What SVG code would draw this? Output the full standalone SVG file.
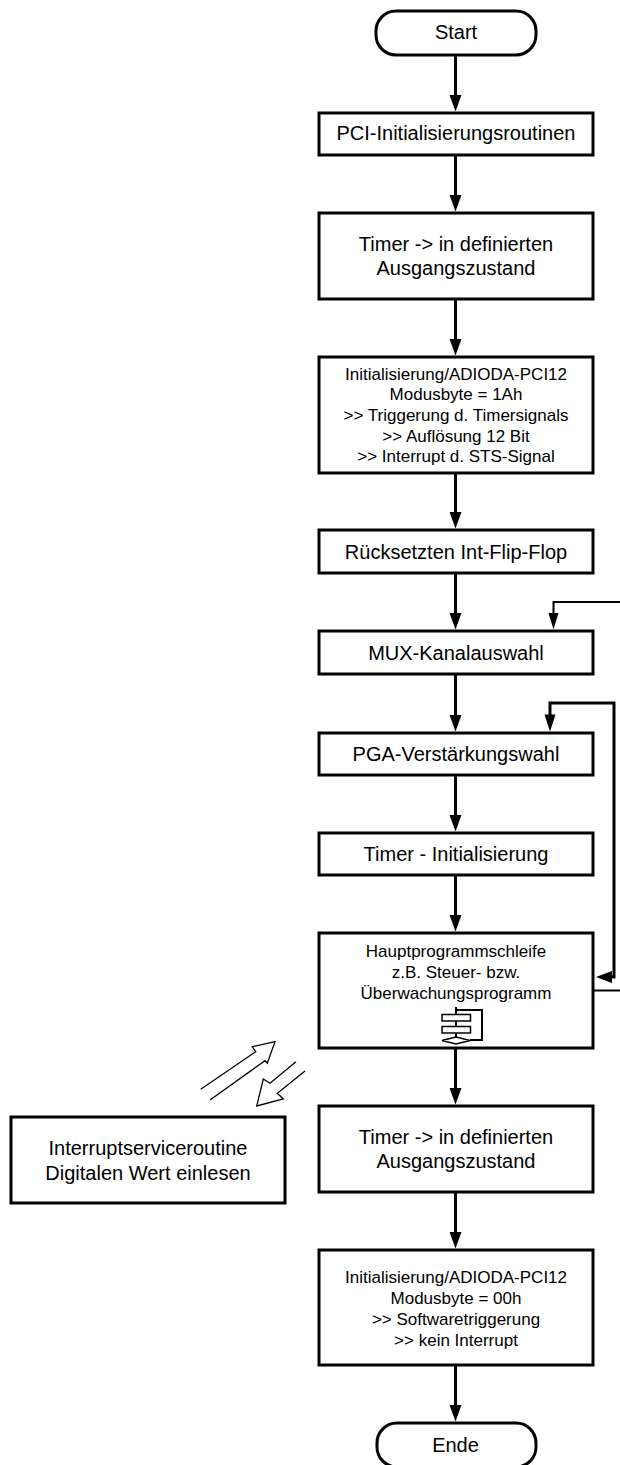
<svg xmlns="http://www.w3.org/2000/svg" width="620" height="1465" viewBox="0 0 620 1465">
<style>
text{font-family:"Liberation Sans",Arial,sans-serif;fill:#000;text-anchor:middle}
.a{font-size:20px}.b{font-size:17px}
.n{fill:#fff;stroke:#000;stroke-width:3}
.c{fill:none;stroke:#000;stroke-width:3}
.t{fill:none;stroke:#000;stroke-width:2}
.h{fill:#fff;stroke:#000;stroke-width:1.500}
</style>
<g id="connectors">
<path class="c" d="M455.500 55V100"/><path d="M449.500 95H461.500L455.500 111.500Z"/>
<path class="c" d="M455.500 155V200"/><path d="M449.500 195H461.500L455.500 211.500Z"/>
<path class="c" d="M455.500 299V344"/><path d="M449.500 339H461.500L455.500 355.500Z"/>
<path class="c" d="M455.500 473V517"/><path d="M449.500 512H461.500L455.500 528.500Z"/>
<path class="c" d="M455.500 573V618"/><path d="M449.500 613H461.500L455.500 629.500Z"/>
<path class="c" d="M455.500 674V720"/><path d="M449.500 715H461.500L455.500 731.500Z"/>
<path class="c" d="M455.500 775V820"/><path d="M449.500 815H461.500L455.500 831.500Z"/>
<path class="c" d="M455.500 875V920"/><path d="M449.500 915H461.500L455.500 931.500Z"/>
<path class="c" d="M455.500 1044V1093"/><path d="M449.500 1088H461.500L455.500 1104.500Z"/>
<path class="c" d="M455.500 1192V1237"/><path d="M449.500 1232H461.500L455.500 1248.500Z"/>
<path class="c" d="M455.500 1365V1410"/><path d="M449.500 1405H461.500L455.500 1421.500Z"/>
<path class="t" d="M620 602H553.500V618"/><path d="M548.500 613H558.500L553.500 629.500Z"/>
<path class="c" d="M606 977H614V703H550V720"/><path d="M612 971V983L596 977Z"/><path d="M544.500 714.500H555.500L550 731.500Z"/>
<path class="t" d="M594 990.500H620"/>
</g>
<g id="start"><rect class="n" x="376" y="11" width="160" height="44" rx="20"/><text class="a" x="456" y="39">Start</text></g>
<g id="pci"><rect class="n" x="319" y="113" width="274" height="42"/><text class="a" x="456" y="140">PCI-Initialisierungsroutinen</text></g>
<g id="timer1"><rect class="n" x="319" y="213" width="274" height="86"/><text class="a" x="456" y="250.500">Timer -&gt; in definierten</text><text class="a" x="456" y="275">Ausgangszustand</text></g>
<g id="init1"><rect class="n" x="319" y="357" width="274" height="116"/>
<text class="b" x="456" y="379.500">Initialisierung/ADIODA-PCI12</text><text class="b" x="456" y="400">Modusbyte = 1Ah</text><text class="b" x="456" y="420.500">&gt;&gt; Triggerung d. Timersignals</text><text class="b" x="456" y="441.500">&gt;&gt; Auflösung 12 Bit</text><text class="b" x="456" y="462">&gt;&gt; Interrupt d. STS-Signal</text></g>
<g id="reset"><rect class="n" x="319" y="530" width="274" height="43"/><text class="a" x="456" y="558.500">Rücksetzten Int-Flip-Flop</text></g>
<g id="mux"><rect class="n" x="319" y="631" width="274" height="43"/><text class="a" x="456" y="660">MUX-Kanalauswahl</text></g>
<g id="pga"><rect class="n" x="319" y="733" width="274" height="42"/><text class="a" x="456" y="761">PGA-Verstärkungswahl</text></g>
<g id="timerinit"><rect class="n" x="319" y="833" width="274" height="42"/><text class="a" x="456" y="861">Timer - Initialisierung</text></g>
<g id="main"><rect class="n" x="319" y="933" width="274" height="115"/>
<text class="b" x="456" y="957">Hauptprogrammschleife</text><text class="b" x="456" y="978">z.B. Steuer- bzw.</text><text class="b" x="456" y="999">Überwachungsprogramm</text>
<path class="t" d="M456 1007V1037M456 1010H482V1040H470"/><rect class="h" x="442" y="1014.500" width="28.500" height="6.500"/><rect class="h" x="442" y="1026.500" width="28.500" height="6.500"/><path class="h" d="M442 1040.500L456 1037L470 1040.500L456 1044Z"/></g>
<g id="timer2"><rect class="n" x="319" y="1106" width="274" height="86"/><text class="a" x="456" y="1143.500">Timer -&gt; in definierten</text><text class="a" x="456" y="1168">Ausgangszustand</text></g>
<g id="init2"><rect class="n" x="319" y="1250" width="274" height="115"/>
<text class="b" x="456" y="1283">Initialisierung/ADIODA-PCI12</text><text class="b" x="456" y="1304">Modusbyte = 00h</text><text class="b" x="456" y="1325">&gt;&gt; Softwaretriggerung</text><text class="b" x="456" y="1346">&gt;&gt; kein Interrupt</text></g>
<g id="ende"><rect class="n" x="377" y="1423" width="159" height="44" rx="20"/><text class="a" x="455.500" y="1452">Ende</text></g>
<g id="isr"><rect class="n" x="11" y="1117" width="274" height="86"/><text class="a" x="148" y="1155">Interruptserviceroutine</text><text class="a" x="148" y="1180">Digitalen Wert einlesen</text></g>
<g id="transfer"><path fill="none" stroke="#000" stroke-width="1.300" d="M200.700 1089.300L255.700 1051.700L252.300 1046.700L275 1041.700L267.300 1063.300L265 1060.700L210 1100"/><path fill="none" stroke="#000" stroke-width="1.300" d="M296 1061.700L270 1083.300L263.300 1079L256.700 1106L283.300 1099L277.300 1093.300L305 1071"/></g>
</svg>
